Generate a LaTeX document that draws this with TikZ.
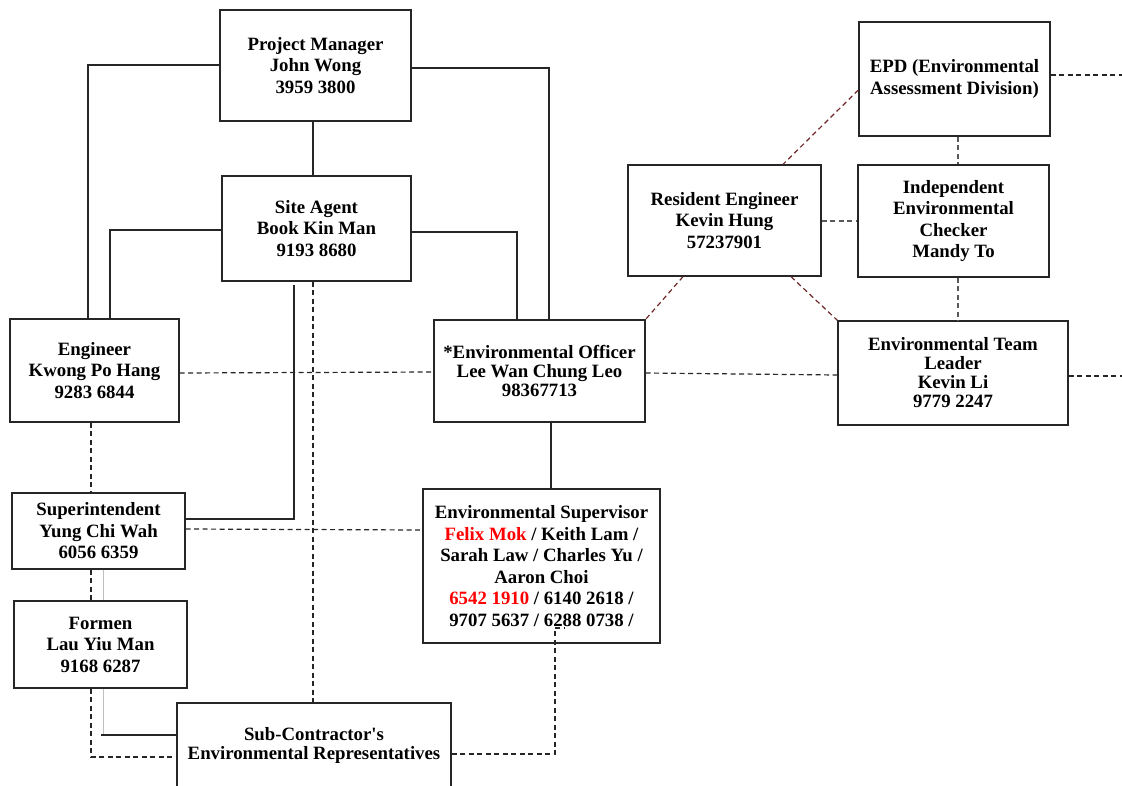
\documentclass[tikz,border=0pt]{standalone}
\usepackage{fontspec}
\setmainfont{Liberation Serif}
\begin{document}
\begin{tikzpicture}[x=1pt,y=-1pt,
  box/.style={draw=black!85,line width=1.3pt,inner sep=0pt,align=center,
    font=\fontsize{18.8}{21.5}\selectfont\bfseries},
  tight/.style={font=\fontsize{18.8}{19}\selectfont\bfseries},
  sol/.style={line width=1.4pt,black!85},
  dsh/.style={line width=1.2pt,black!85,dash pattern=on 5pt off 3.5pt},
  rdsh/.style={line width=1.2pt,color={rgb,255:red,110;green,40;blue,40},dash pattern=on 5pt off 3.5pt},
  gdsh/.style={line width=1.2pt,black!65,dash pattern=on 5pt off 3.5pt},
  gsol/.style={line width=1pt,black!25}]
\useasboundingbox (0,0) rectangle (1122,785);
\node[box,minimum width=191pt,minimum height=111pt] (pm) at (315.5,65.5) {Project Manager\\John Wong\\3959 3800};
\node[box,minimum width=189pt,minimum height=105pt] (sa) at (316.5,228.5) {Site Agent\\Book Kin Man\\9193 8680};
\node[box,minimum width=169pt,minimum height=103pt] (eng) at (94.5,370.5) {Engineer\\Kwong Po Hang\\9283 6844};
\node[box,tight,minimum width=211pt,minimum height=102pt] (eo) at (539.5,371) {*Environmental Officer\\Lee Wan Chung Leo\\98367713};
\node[box,minimum width=173pt,minimum height=76pt] (supt) at (98.5,531) {Superintendent\\Yung Chi Wah\\6056 6359};
\node[box,minimum width=173pt,minimum height=87pt] (form) at (100.5,644.5) {Formen\\Lau Yiu Man\\9168 6287};
\node[box,tight,minimum width=274pt,minimum height=84pt] (sub) at (314,745) {Sub-Contractor\textquotesingle s\\Environmental Representatives};
\node[box,minimum width=237pt,minimum height=154pt] (es) at (541.5,566) {Environmental Supervisor\\\textcolor{red}{Felix Mok} / Keith Lam /\\Sarah Law / Charles Yu /\\Aaron Choi\\\textcolor{red}{6542 1910} / 6140 2618 /\\9707 5637 / 6288 0738 /};
\node[box,minimum width=193pt,minimum height=111pt] (re) at (724.5,220.5) {Resident Engineer\\Kevin Hung\\57237901};
\node[box,minimum width=191pt,minimum height=114pt] (epd) at (954.5,79) {EPD (Environmental\\Assessment Division)};
\node[box,minimum width=191pt,minimum height=112pt] (iec) at (953.5,221) {Independent\\Environmental\\Checker\\Mandy To};
\node[box,tight,minimum width=230pt,minimum height=104pt] (etl) at (953,373) {Environmental Team\\Leader\\Kevin Li\\9779 2247};
\coordinate (epdR) at (1122,75);
\coordinate (etlR) at (1122,376);
% solid connectors
\draw[sol] (pm.west |- 0,65) -| (eng.north -| 88,0);
\draw[sol] (pm.east |- 0,68) -| (eo.north -| 549,0);
\draw[sol] (pm.south -| 313,0) -- (sa.north -| 313,0);
\draw[sol] (sa.west |- 0,230) -| (eng.north -| 110,0);
\draw[sol] (sa.east |- 0,232) -| (eo.north -| 517,0);
\draw[sol] (sa.south -| 294,0) ++(0,3) -- (294,519) -- (supt.east |- 0,519);
\draw[sol] (eo.south -| 551,0) -- (es.north -| 551,0);
\draw[gsol] (supt.south -| 103,0) -- (form.north -| 103,0);
\draw[gsol] (form.south -| 103,0) -- (103,735);
\draw[sol] (101,735) -- (sub.west |- 0,735);
% dashed connectors
\draw[dsh] (sa.south -| 313,0) -- (sub.north -| 313,0);
\draw[dsh] (eng.south -| 91,0) -- (supt.north -| 91,0);
\draw[dsh] (supt.south -| 91,0) -- (form.north -| 91,0);
\draw[dsh] (form.south -| 91,0) |- (sub.west |- 0,757);
\draw[dsh] (eng.east |- 0,373) -- (eo.west |- 0,372);
\draw[dsh] (supt.east |- 0,529) -- (es.west |- 0,530);
\draw[dsh] (sub.east |- 0,754) -| (555,628) -- (565,628);
\draw[dsh] (eo.east |- 0,373) -- (etl.west |- 0,375);
\draw[dsh] (etl.east |- 0,376) -- (etlR);
\draw[dsh] (epd.east |- 0,75) -- (epdR);
% dark red dashed
\draw[rdsh] (epd.west |- 0,90) -- (re.north -| 783,0);
\draw[rdsh] (re.south -| 683,0) -- (eo.north east);
\draw[rdsh] (re.south -| 791,0) -- (etl.north west);
% gray dashed
\draw[gdsh] (re.east |- 0,221) -- (iec.west |- 0,221);
\draw[gdsh] (epd.south -| 958,0) -- (iec.north -| 958,0);
\draw[gdsh] (iec.south -| 958,0) -- (etl.north -| 958,0);
\end{tikzpicture}
\end{document}
